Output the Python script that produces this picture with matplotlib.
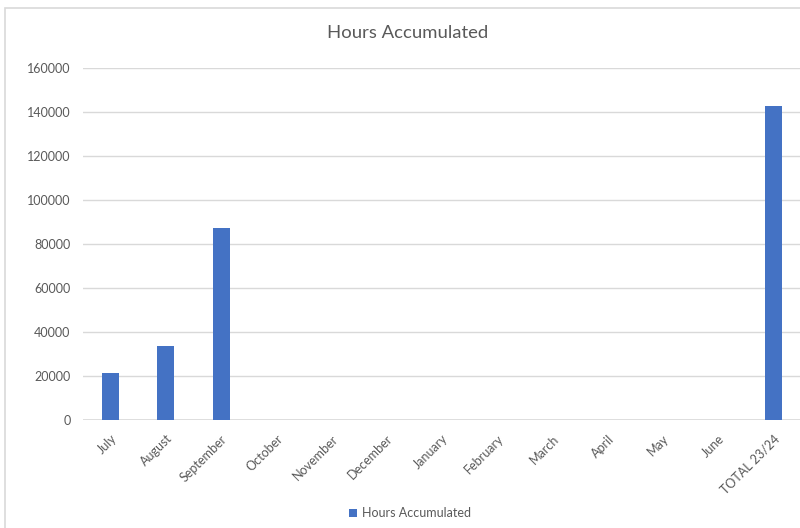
import matplotlib.pyplot as plt
from matplotlib.patches import Rectangle

months = ['July', 'August', 'September', 'October', 'November', 'December',
          'January', 'February', 'March', 'April', 'May', 'June', 'TOTAL 23/24']
hours = [21500, 33700, 87200, 0, 0, 0, 0, 0, 0, 0, 0, 0, 142900]
yticks = [0, 20000, 40000, 60000, 80000, 100000, 120000, 140000, 160000]

plt.rcParams['font.family'] = ['Lato', 'DejaVu Sans']
grey = '#595959'

fig = plt.figure(figsize=(8, 5.28), dpi=100)
fig.patch.set_facecolor('white')
# outer chart frame
fig.patches.append(Rectangle((5 / 800, -0.1), 1.2, 1 - 8 / 528 + 0.1,
                             transform=fig.transFigure, fill=False,
                             edgecolor='#d9d9d9', linewidth=1.2))

ax = fig.add_axes([83 / 800, 1 - 420 / 528, 718 / 800, 352 / 528])
x = range(len(months))
ax.bar(x, hours, width=0.31, color='#4472c4', label='Hours Accumulated', zorder=3)

ax.set_xlim(-0.5, len(months) - 0.5)
ax.set_ylim(0, 160000)
ax.set_yticks(yticks)
ax.set_yticklabels([str(v) for v in yticks], color=grey, fontsize=9)
ax.set_xticks(list(x))
ax.set_xticklabels(months, rotation=45, ha='right', rotation_mode='anchor',
                   color=grey, fontsize=9)
ax.tick_params(axis='x', length=0, pad=9)
ax.tick_params(axis='y', length=0, pad=9)
ax.grid(axis='y', color='#d9d9d9', linewidth=1, zorder=0)
for s in ax.spines.values():
    s.set_visible(False)
ax.axhline(0, color='#d9d9d9', linewidth=1.2, zorder=2)

fig.text(408 / 800, 1 - 33 / 528, 'Hours Accumulated', ha='center', va='center',
         fontsize=13.3, color=grey)
fig.legend(loc='center', bbox_to_anchor=(410 / 800, 1 - 513 / 528), frameon=False,
           fontsize=9, labelcolor=grey, handlelength=0.6, handleheight=0.6,
           handletextpad=0.4)

fig.savefig('out.png', dpi=100)
